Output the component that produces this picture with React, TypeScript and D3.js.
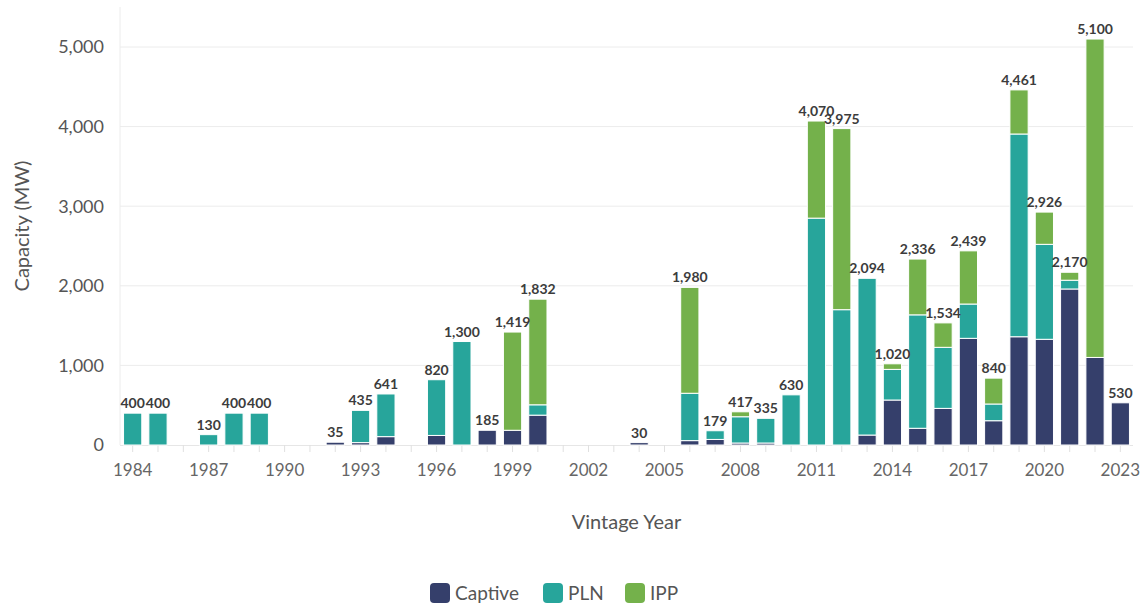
import { useRef, useEffect } from 'react';
import * as d3 from 'd3';

const years = d3.range(1984, 2024);
const tickYears = [1984, 1987, 1990, 1993, 1996, 1999, 2002, 2005, 2008, 2011, 2014, 2017, 2020, 2023];
const yTicks = [0, 1000, 2000, 3000, 4000, 5000];

// MW per vintage year, 1984..2023
const captive = [0, 0, 0, 0, 0, 0, 0, 0, 35, 30, 105, 0, 120, 0, 185, 185, 375, 0, 0, 0,
  30, 0, 55, 70, 25, 25, 0, 0, 0, 125, 565, 210, 460, 1340, 305, 1360, 1328, 1960, 1100, 530];
const pln = [400, 400, 0, 130, 400, 400, 0, 0, 0, 405, 536, 0, 700, 1300, 0, 0, 130, 0, 0, 0,
  0, 0, 595, 109, 330, 310, 630, 2850, 1700, 1969, 385, 1425, 767, 431, 210, 2547, 1193, 110, 0, 0];
const ipp = [0, 0, 0, 0, 0, 0, 0, 0, 0, 0, 0, 0, 0, 0, 0, 1234, 1327, 0, 0, 0,
  0, 0, 1330, 0, 62, 0, 0, 1220, 2275, 0, 70, 701, 307, 668, 325, 554, 405, 100, 4000, 0];

const seriesNames = ['Captive', 'PLN', 'IPP'];
const colors = ['#353f6b', '#27a59b', '#74b14b'];

const W = 1145;
const H = 607;
const FONT = 'Lato, "Source Sans Pro", sans-serif';

export default function App(): JSX.Element {
  const svgRef = useRef<SVGSVGElement | null>(null);

  useEffect(() => {
    if (!svgRef.current) return;
    const svg = d3.select(svgRef.current);
    svg.selectAll('*').remove();

    const left = 120, right = 1133, top = 7, bottom = 445;

    const x = d3.scaleBand<number>()
      .domain(years)
      .range([left, right])
      .paddingInner(0.28)
      .paddingOuter(0.14);

    const y = d3.scaleLinear().domain([0, 5000]).range([bottom, bottom - 5 * 79.6]);

    const rows = years.map((yr, i) => ({ year: yr, Captive: captive[i], PLN: pln[i], IPP: ipp[i] }));
    const stacked = d3.stack<any>().keys(seriesNames)(rows);

    // gridlines
    svg.append('g')
      .selectAll('line')
      .data(yTicks.slice(1))
      .join('line')
      .attr('x1', left).attr('x2', right)
      .attr('y1', d => y(d)).attr('y2', d => y(d))
      .attr('stroke', '#ececec');

    svg.append('line')
      .attr('x1', left).attr('x2', left)
      .attr('y1', top).attr('y2', bottom)
      .attr('stroke', '#ececec');

    // y axis labels
    svg.append('g')
      .selectAll('text')
      .data(yTicks)
      .join('text')
      .attr('x', 104)
      .attr('y', d => y(d))
      .attr('dy', '0.35em')
      .attr('text-anchor', 'end')
      .attr('font-family', FONT)
      .attr('font-size', 18)
      .attr('fill', '#555')
      .text(d => d3.format(',')(d));

    // x axis
    svg.append('line')
      .attr('x1', left).attr('x2', right)
      .attr('y1', bottom + 0.5).attr('y2', bottom + 0.5)
      .attr('stroke', '#e6e6e6');

    svg.append('g')
      .selectAll('line')
      .data(years)
      .join('line')
      .attr('x1', d => x(d)! + x.bandwidth() / 2)
      .attr('x2', d => x(d)! + x.bandwidth() / 2)
      .attr('y1', bottom)
      .attr('y2', bottom + 7)
      .attr('stroke', '#e0e0e0');

    svg.append('g')
      .selectAll('text')
      .data(tickYears)
      .join('text')
      .attr('x', d => x(d)! + x.bandwidth() / 2)
      .attr('y', 476)
      .attr('text-anchor', 'middle')
      .attr('font-family', FONT)
      .attr('font-size', 17)
      .attr('fill', '#666')
      .text(d => d);

    // bars
    svg.append('g')
      .selectAll('g')
      .data(stacked)
      .join('g')
      .attr('fill', (_, i) => colors[i])
      .selectAll('rect')
      .data(d => d.filter(s => s[1] - s[0] > 0))
      .join('rect')
      .attr('x', d => x(d.data.year)!)
      .attr('width', x.bandwidth())
      .attr('y', d => y(d[1]))
      .attr('height', d => y(d[0]) - y(d[1]))
      .attr('stroke', '#ffffff')
      .attr('stroke-width', 1);

    // totals
    svg.append('g')
      .selectAll('text')
      .data(rows.filter(r => r.Captive + r.PLN + r.IPP > 0))
      .join('text')
      .attr('x', d => x(d.year)! + x.bandwidth() / 2)
      .attr('y', d => y(d.Captive + d.PLN + d.IPP) - 5)
      .attr('text-anchor', 'middle')
      .attr('font-family', FONT)
      .attr('font-size', 14)
      .attr('font-weight', 'bold')
      .attr('fill', '#3c3c3c')
      .text(d => d3.format(',')(d.Captive + d.PLN + d.IPP));

    // axis titles
    svg.append('text')
      .attr('transform', `translate(29,${(top + bottom) / 2}) rotate(-90)`)
      .attr('text-anchor', 'middle')
      .attr('font-family', FONT)
      .attr('font-size', 20)
      .attr('fill', '#555')
      .text('Capacity (MW)');

    svg.append('text')
      .attr('x', (left + right) / 2)
      .attr('y', 529)
      .attr('text-anchor', 'middle')
      .attr('font-family', FONT)
      .attr('font-size', 20)
      .attr('fill', '#555')
      .text('Vintage Year');

    // legend
    const legendX = [430, 543, 625];
    const legend = svg.append('g')
      .selectAll('g')
      .data(seriesNames)
      .join('g')
      .attr('transform', (_, i) => `translate(${legendX[i]},583)`);
    legend.append('rect')
      .attr('width', 20).attr('height', 20)
      .attr('rx', 4)
      .attr('fill', (_, i) => colors[i]);
    legend.append('text')
      .attr('x', 25)
      .attr('y', 17)
      .attr('font-family', FONT)
      .attr('font-size', 19)
      .attr('fill', '#555')
      .text(d => d);
  }, []);

  return (
    <svg
      ref={svgRef}
      width={W}
      height={H}
      style={{ position: 'absolute', left: 0, top: 0, background: '#fff' }}
    />
  );
}
